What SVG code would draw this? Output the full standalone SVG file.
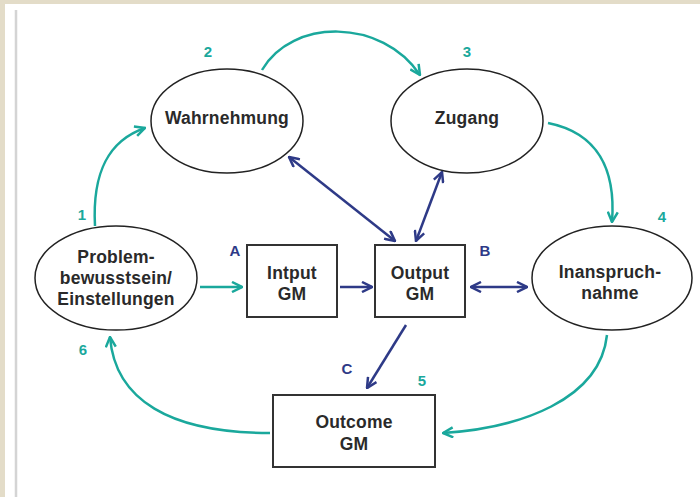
<svg xmlns="http://www.w3.org/2000/svg" width="700" height="497" viewBox="0 0 700 497">
<defs>
<style>
.node{fill:#fff;stroke:#222;stroke-width:1.5}
.box{fill:#fff;stroke:#333;stroke-width:2}
.lbl{font-family:"Liberation Sans",Arial,sans-serif;font-weight:bold;font-size:17.5px;fill:#2a2a2a;text-anchor:middle;letter-spacing:0.2px}
.num{font-family:"Liberation Sans",Arial,sans-serif;font-weight:bold;font-size:15px;fill:#1aa89c;text-anchor:middle}
.let{font-family:"Liberation Sans",Arial,sans-serif;font-weight:bold;font-size:15px;fill:#2e3a87;text-anchor:middle}
.teal{fill:none;stroke:#1aa89c;stroke-width:2.5;marker-end:url(#ht)}
.navy{fill:none;stroke:#2e3a87;stroke-width:2.5;marker-end:url(#hn)}
.navy2{fill:none;stroke:#2e3a87;stroke-width:2.5;marker-end:url(#hn);marker-start:url(#hn)}
</style>
<marker id="ht" viewBox="0 0 12 12" refX="11" refY="6" markerWidth="12" markerHeight="12" markerUnits="userSpaceOnUse" orient="auto-start-reverse">
<path d="M1,1 L11,6 L1,11" fill="none" stroke="#1aa89c" stroke-width="2.5" stroke-linejoin="miter"/>
</marker>
<marker id="hn" viewBox="0 0 12 12" refX="11" refY="6" markerWidth="12" markerHeight="12" markerUnits="userSpaceOnUse" orient="auto-start-reverse">
<path d="M1,1 L11,6 L1,11" fill="none" stroke="#2e3a87" stroke-width="2.5" stroke-linejoin="miter"/>
</marker>
</defs>
<rect x="0" y="0" width="700" height="497" fill="#fff"/>
<rect x="0" y="0" width="700" height="4" fill="#e3dcc8"/>
<rect x="0" y="0" width="5" height="497" fill="#e3dcc8"/>
<line x1="16" y1="10" x2="16" y2="497" stroke="#d4d4d4" stroke-width="2.5"/>

<g id="connectors">
<path class="teal" d="M95,226 C92,170 110,140 145,128"/>
<path class="teal" d="M262,70 C292,18 382,18 420,75"/>
<path class="teal" d="M548,123 C598,133 616,170 612,222"/>
<path class="teal" d="M607,335 C600,400 520,428 443,433"/>
<path class="teal" d="M270,433 C170,433 115,400 110,337"/>
<path class="teal" d="M200,287 L242,287"/>
<path class="navy" d="M340,287 L372,287"/>
<path class="navy2" d="M289,157 L395,241"/>
<path class="navy2" d="M442,172 L416,241"/>
<path class="navy2" d="M471,287 L527,287"/>
<path class="navy" d="M406,325 L367,388"/>
</g>

<g id="wahrnehmung">
<ellipse class="node" cx="227" cy="121" rx="76" ry="52"/>
<text class="lbl" x="227" y="124">Wahrnehmung</text>
</g>
<g id="zugang">
<ellipse class="node" cx="467" cy="121" rx="76" ry="52"/>
<text class="lbl" x="467" y="124">Zugang</text>
</g>
<g id="problem">
<ellipse class="node" cx="116" cy="278" rx="81" ry="52"/>
<text class="lbl" x="116" y="263">Problem-</text>
<text class="lbl" x="116" y="284">bewusstsein/</text>
<text class="lbl" x="116" y="305">Einstellungen</text>
</g>
<g id="inanspruchnahme">
<ellipse class="node" cx="612" cy="278" rx="80" ry="52"/>
<text class="lbl" x="610" y="278">Inanspruch-</text>
<text class="lbl" x="610" y="299">nahme</text>
</g>
<g id="input">
<rect class="box" x="247" y="245" width="90" height="72"/>
<text class="lbl" x="292" y="279">Intput</text>
<text class="lbl" x="292" y="300">GM</text>
</g>
<g id="output">
<rect class="box" x="375" y="245" width="90" height="72"/>
<text class="lbl" x="420" y="279">Output</text>
<text class="lbl" x="420" y="300">GM</text>
</g>
<g id="outcome">
<rect class="box" x="273" y="395" width="162" height="72"/>
<text class="lbl" x="354" y="428">Outcome</text>
<text class="lbl" x="354" y="450">GM</text>
</g>

<g id="labels">
<text class="num" x="82" y="220">1</text>
<text class="num" x="208" y="57">2</text>
<text class="num" x="467" y="57">3</text>
<text class="num" x="662" y="222">4</text>
<text class="num" x="422" y="386">5</text>
<text class="num" x="83" y="355">6</text>
<text class="let" x="235" y="256">A</text>
<text class="let" x="485" y="256">B</text>
<text class="let" x="347" y="374">C</text>
</g>
</svg>
